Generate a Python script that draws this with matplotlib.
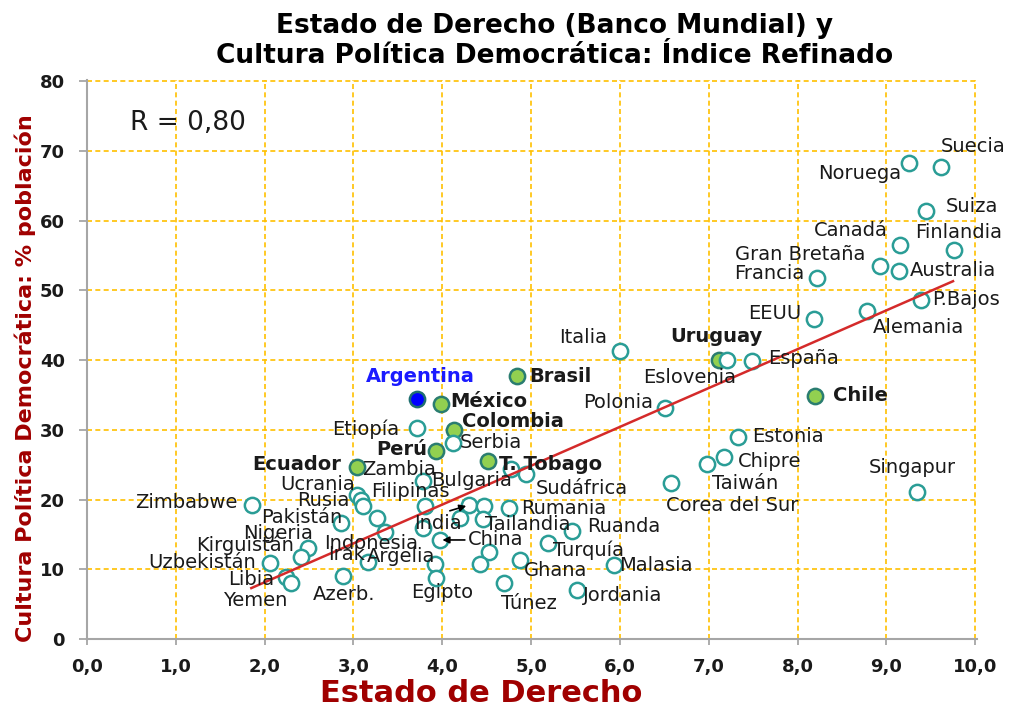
import matplotlib
matplotlib.use('Agg')
import matplotlib.pyplot as plt

# datos
paises = ['Suecia', 'Noruega', 'Suiza', 'Canadá', 'Finlandia', 'Gran Bretaña', 'Australia',
          'Francia', 'P.Bajos', 'EEUU', 'Alemania', 'Italia', 'Uruguay', 'Eslovenia', 'España',
          'Chile', 'Polonia', 'Estonia', 'Chipre', 'Taiwán', 'Corea del Sur', 'Singapur',
          'Argentina', 'Brasil', 'México', 'Colombia', 'Etiopía', 'Serbia', 'Perú', 'T. Tobago',
          'Ecuador', 'Zambia', 'Ucrania', 'Rusia', '', 'Bulgaria', 'Sudáfrica', 'Zimbabwe',
          'Filipinas', 'Pakistán', '', 'Indonesia', 'India', '', 'Rumania', '', 'Tailandia', '',
          'China', 'Ruanda', 'Turquía', 'Nigeria', 'Kirguistán', 'Irak', 'Argelia', '', '',
          'Ghana', 'Malasia', 'Uzbekistán', 'Libia', 'Yemen', 'Azerb.', 'Egipto', 'Túnez',
          'Jordania']
estado_derecho = [9.61, 9.25, 9.45, 9.15, 9.76, 8.93, 9.14,
                  8.22, 9.39, 8.18, 8.78, 6.00, 7.11, 7.21, 7.49,
                  8.20, 6.51, 7.33, 7.17, 6.98, 6.57, 9.35,
                  3.72, 4.84, 3.98, 4.13, 3.71, 4.12, 3.93, 4.52,
                  3.04, 3.78, 3.04, 3.08, 3.11, 4.77, 4.94, 1.86,
                  3.81, 2.86, 3.26, 3.36, 4.30, 4.47, 4.75, 4.20, 4.46, 3.78,
                  3.97, 5.46, 5.19, 2.49, 2.41, 3.16, 3.92, 4.53, 4.42,
                  4.88, 5.93, 2.06, 2.24, 2.30, 2.88, 3.93, 4.70,
                  5.52]
cultura_politica = [67.7, 68.3, 61.4, 56.5, 55.8, 53.5, 52.8,
                    51.8, 48.6, 45.9, 47.0, 41.3, 40.0, 40.0, 39.9,
                    34.9, 33.1, 28.9, 26.1, 25.1, 22.4, 21.1,
                    34.4, 37.7, 33.7, 30.0, 30.3, 28.1, 27.0, 25.5,
                    24.7, 22.7, 20.7, 19.9, 19.1, 24.4, 23.7, 19.2,
                    19.0, 16.6, 17.4, 15.4, 19.2, 19.0, 18.8, 17.4, 17.2, 15.9,
                    14.2, 15.5, 13.7, 13.0, 11.8, 11.1, 10.8, 12.5, 10.7,
                    11.3, 10.6, 10.9, 8.9, 8.0, 9.0, 8.7, 8.0,
                    7.0]
latam = ['Uruguay', 'Chile', 'Brasil', 'México', 'Colombia', 'Perú', 'T. Tobago', 'Ecuador']
tendencia_x = [1.85, 9.75]
tendencia_y = [7.3, 51.3]

# posicion de las etiquetas (pixeles respecto al punto)
etiquetas = {
    'Suecia': (0, 20, 'left'), 'Noruega': (-7, -11, 'right'), 'Suiza': (19, 4, 'left'),
    'Canadá': (-12, 14, 'right'), 'Finlandia': (-39, 17, 'left'),
    'Gran Bretaña': (-15, 11, 'right'), 'Australia': (11, 0, 'left'),
    'Francia': (-13, 4, 'right'), 'P.Bajos': (11, 1, 'left'), 'EEUU': (-12, 5, 'right'),
    'Alemania': (6, -16, 'left'), 'Italia': (-13, 13, 'right'), 'Uruguay': (-2, 24, 'center'),
    'Eslovenia': (9, -17, 'right'), 'España': (16, 2, 'left'), 'Chile': (18, 0, 'left'),
    'Polonia': (-12, 6, 'right'), 'Estonia': (14, 1, 'left'), 'Chipre': (14, -5, 'left'),
    'Taiwán': (5, -20, 'left'), 'Corea del Sur': (-5, -23, 'left'),
    'Singapur': (-5, 24, 'center'), 'Argentina': (3, 23, 'center'), 'Brasil': (12, 0, 'left'),
    'México': (10, 2, 'left'), 'Colombia': (8, 8, 'left'), 'Etiopía': (-17, -2, 'right'),
    'Serbia': (7, 1, 'left'), 'Perú': (-9, 1, 'right'), 'T. Tobago': (11, -3, 'left'),
    'Ecuador': (-16, 2, 'right'), 'Zambia': (-61, 11, 'left'), 'Ucrania': (-2, 10, 'right'),
    'Rusia': (-11, 0, 'right'), 'Bulgaria': (1, -12, 'right'), 'Sudáfrica': (10, -15, 'left'),
    'Zimbabwe': (-15, 3, 'right'), 'Filipinas': (-54, 15, 'left'),
    'Pakistán': (1, 6, 'right'), 'Indonesia': (-14, -12, 'center'),
    'Rumania': (12, -1, 'left'), 'Tailandia': (2, -5, 'left'), 'Ruanda': (15, 4, 'left'),
    'Turquía': (5, -7, 'left'), 'Nigeria': (5, 15, 'right'), 'Kirguistán': (-7, 12, 'right'),
    'Irak': (-3, 7, 'right'), 'Argelia': (-68, 7, 'left'), 'Ghana': (3, -10, 'left'),
    'Malasia': (5, 0, 'left'), 'Uzbekistán': (-14, 0, 'right'), 'Libia': (-12, -3, 'right'),
    'Azerb.': (1, -18, 'center'), 'Egipto': (6, -14, 'center'), 'Yemen': (-4, -17, 'right'),
    'Túnez': (24, -20, 'center'), 'Jordania': (6, -5, 'left'),
}
flechas = {'India': (-7, -18, 'right', (0.55, 1.0)), 'China': (28, 0, 'left', (0.0, 0.5))}

rojo = '#a00000'
verde_azul = '#2a9d96'

fig = plt.figure(figsize=(10.19, 7.09), dpi=100)
ax = fig.add_axes([87 / 1019, 70 / 709, 890 / 1019, 559 / 709])

ax.plot(tendencia_x, tendencia_y, color='#d42a2a', lw=1.8, zorder=4)

for nombre, x, y in zip(paises, estado_derecho, cultura_politica):
    if nombre == 'Argentina':
        cara, borde = '#0000ff', '#1f6f70'
    elif nombre in latam:
        cara, borde = '#92d050', '#2a7d70'
    else:
        cara, borde = 'white', verde_azul
    ax.plot(x, y, 'o', ms=11, mfc=cara, mec=borde, mew=1.8, zorder=3)

    if nombre in etiquetas:
        dx, dy, ha = etiquetas[nombre]
        color = '#1a1aff' if nombre == 'Argentina' else '#1a1a1a'
        peso = 'bold' if (nombre in latam or nombre == 'Argentina') else 'normal'
        ax.annotate(nombre, (x, y), xytext=(dx, dy), textcoords='offset pixels',
                    ha=ha, va='center', fontsize=14, color=color, fontweight=peso, zorder=5)
    elif nombre in flechas:
        dx, dy, ha, rp = flechas[nombre]
        ax.annotate(nombre, (x, y), xytext=(dx, dy), textcoords='offset pixels',
                    ha=ha, va='center', fontsize=14, color='#1a1a1a', zorder=5,
                    arrowprops=dict(arrowstyle='-|>', color='black', lw=1.2,
                                    shrinkA=0, shrinkB=2, relpos=rp, mutation_scale=10))

ax.text(0.48, 74.0, 'R = 0,80', fontsize=19, va='center', ha='left', color='#1a1a1a')

ax.set_xlim(0, 10.02)
ax.set_ylim(0, 80.15)
ax.set_xticks(range(0, 11))
ax.set_xticklabels([f'{i},0' for i in range(0, 11)])
ax.set_yticks(range(0, 81, 10))
ax.grid(True, color='#ffc000', linestyle=(0, (3, 2)), lw=1.2, zorder=0)
ax.set_axisbelow(True)
for lado in ['top', 'right']:
    ax.spines[lado].set_visible(False)
for lado in ['left', 'bottom']:
    ax.spines[lado].set_color('#a6a6a6')
    ax.spines[lado].set_linewidth(1.5)
ax.tick_params(axis='y', length=6, width=1.3, color='#a6a6a6', pad=10, labelsize=13)
ax.tick_params(axis='x', length=4, width=1.3, color='#a6a6a6', pad=10, labelsize=13)
for t in ax.get_xticklabels() + ax.get_yticklabels():
    t.set_fontweight('bold')
    t.set_color('#1a1a1a')

fig.text(555 / 1019, 1 - 41 / 709,
         'Estado de Derecho (Banco Mundial) y\nCultura Política Democrática: Índice Refinado',
         ha='center', va='center', fontsize=19, fontweight='bold', linespacing=1.22)
fig.text(481 / 1019, 1 - 694 / 709, 'Estado de Derecho', ha='center', va='center',
         fontsize=22, fontweight='bold', color=rojo)
fig.text(25 / 1019, 1 - 378 / 709, 'Cultura Política Democrática: % población', ha='center',
         va='center', rotation=90, fontsize=16, fontweight='bold', color=rojo)

fig.savefig('out.png', dpi=100)
